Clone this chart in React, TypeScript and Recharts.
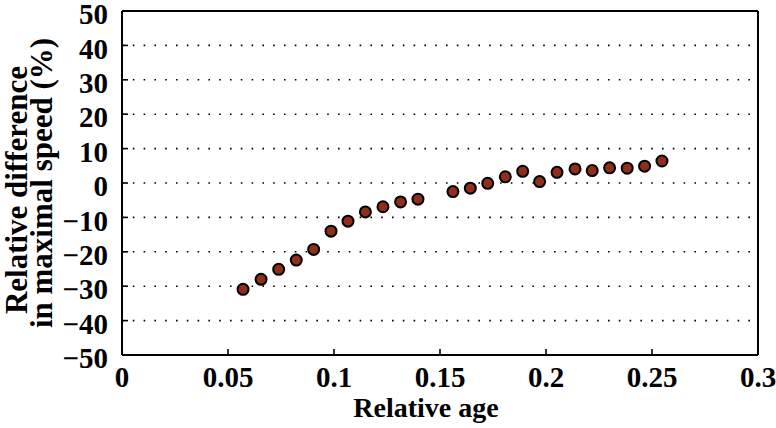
import React from 'react';
import { ScatterChart, Scatter, XAxis, YAxis, CartesianGrid } from 'recharts';

const relativeAge = [0.0571, 0.0656, 0.0739, 0.0822, 0.0904, 0.0986, 0.1066, 0.1148, 0.1231, 0.1314, 0.1396, 0.1561, 0.1643, 0.1725, 0.1808, 0.189, 0.197, 0.2052, 0.2137, 0.2218, 0.23, 0.2383, 0.2465, 0.2547];
const speedDiff = [-30.9, -28.0, -25.1, -22.4, -19.3, -14.0, -11.1, -8.4, -6.9, -5.5, -4.7, -2.5, -1.5, -0.1, 1.8, 3.4, 0.4, 3.1, 4.1, 3.6, 4.4, 4.3, 4.9, 6.4];
const xTicks = [0, 0.05, 0.1, 0.15, 0.2, 0.25, 0.3];
const xTickLabels = ['0', '0.05', '0.1', '0.15', '0.2', '0.25', '0.3'];
const yTicks = [-50, -40, -30, -20, -10, 0, 10, 20, 30, 40, 50];
const xLabel = 'Relative age';
const yLabelLines = ['Relative difference', 'in maximal speed (%)'];

const data = relativeAge.map((x, i) => ({ x, y: speedDiff[i] }));

const FONT = "'Liberation Serif', 'Times New Roman', serif";
const xTickStyle = { fontSize: 29, fontWeight: 700, fontFamily: FONT, fill: '#000' };
const yTickStyle = { fontSize: 29, fontWeight: 700, fontFamily: FONT, fill: '#000', dy: 3 };

const fmtX = (v: number) => {
  const i = xTicks.findIndex((t) => Math.abs(t - v) < 1e-9);
  return i >= 0 ? xTickLabels[i] : String(v);
};
const fmtY = (v: number) => String(v).replace('-', '\u2212');

const Dot = (props: any) => {
  const { cx, cy } = props;
  if (cx == null || cy == null) return null;
  return <circle cx={cx} cy={cy} r={5.5} fill="#8E2E1B" stroke="#000" strokeWidth={2} />;
};

const YLabel = () => (
  <g fontFamily={FONT} fontWeight={700} fontSize={31} fill="#000">
    <text transform="translate(27,190) rotate(-90)" textAnchor="middle" x={0} y={0}>
      {yLabelLines[0]}
    </text>
    <text transform="translate(52,183) rotate(-90)" textAnchor="middle" x={0} y={0}>
      {yLabelLines[1]}
    </text>
  </g>
);

export default function App() {
  return (
    <div style={{ position: 'absolute', left: 0, top: 0, width: 776, height: 428, background: '#fff' }}>
      <ScatterChart width={776} height={428} margin={{ top: 10, right: 17, bottom: 0, left: 0 }}>
        <CartesianGrid vertical={false} stroke="#000" strokeWidth={1.6} strokeDasharray="1.6 9.2" />
        <XAxis
          type="number"
          dataKey="x"
          domain={[0, 0.3]}
          ticks={xTicks}
          tickFormatter={fmtX}
          interval={0}
          height={73}
          tickSize={-6}
          tickMargin={17}
          tick={xTickStyle}
          axisLine={{ stroke: '#000', strokeWidth: 2 }}
          tickLine={{ stroke: '#000', strokeWidth: 1.6 }}
          allowDataOverflow
          label={{ value: xLabel, position: 'insideBottom', offset: 11, dx: -14, fontSize: 28, fontWeight: 700, fontFamily: FONT, fill: '#000' }}
        />
        <XAxis
          xAxisId="top"
          orientation="top"
          type="number"
          domain={[0, 0.3]}
          ticks={xTicks}
          interval={0}
          height={1}
          tickSize={-6}
          tick={false}
          axisLine={{ stroke: '#000', strokeWidth: 2 }}
          tickLine={{ stroke: '#000', strokeWidth: 1.6 }}
          allowDataOverflow
        />
        <YAxis
          type="number"
          dataKey="y"
          domain={[-50, 50]}
          ticks={yTicks}
          tickFormatter={fmtY}
          interval={0}
          width={122}
          tickSize={-6}
          tickMargin={20}
          tick={yTickStyle}
          axisLine={{ stroke: '#000', strokeWidth: 2 }}
          tickLine={{ stroke: '#000', strokeWidth: 1.6 }}
          allowDataOverflow
          label={<YLabel />}
        />
        <YAxis
          yAxisId="right"
          orientation="right"
          type="number"
          domain={[-50, 50]}
          ticks={yTicks}
          interval={0}
          width={1}
          tickSize={-6}
          tick={false}
          axisLine={{ stroke: '#000', strokeWidth: 2 }}
          tickLine={{ stroke: '#000', strokeWidth: 1.6 }}
          allowDataOverflow
        />
        <Scatter data={data} shape={<Dot />} isAnimationActive={false} />
      </ScatterChart>
    </div>
  );
}
